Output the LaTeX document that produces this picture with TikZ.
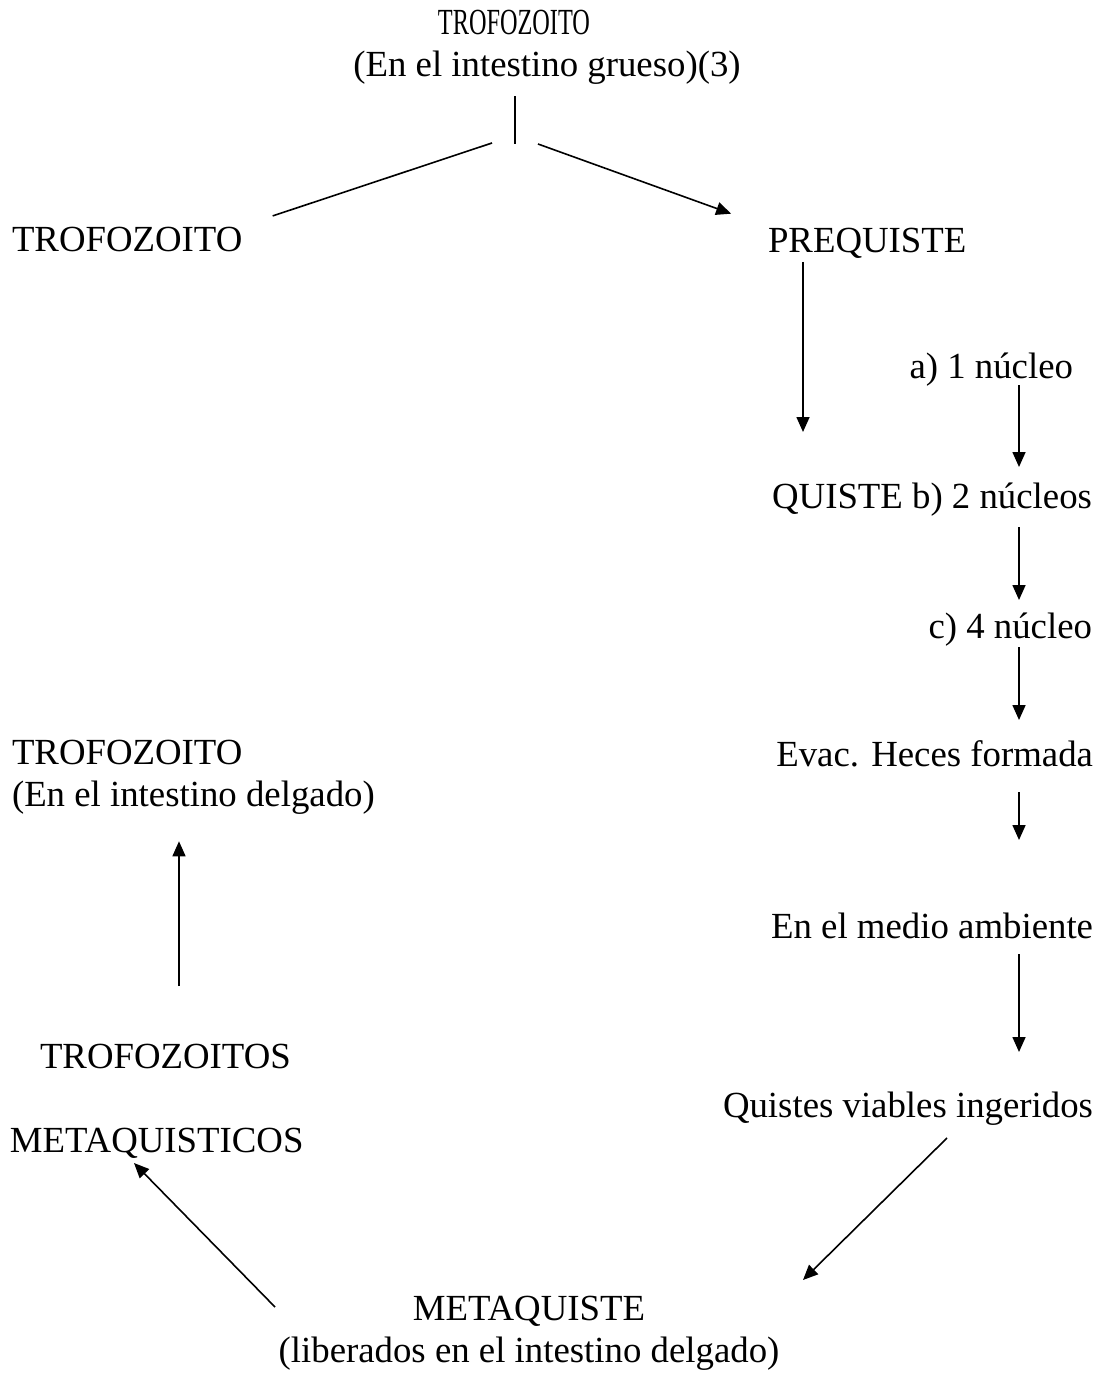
\documentclass[tikz,border=0pt]{standalone}
\usepackage{fontspec}
\setmainfont{Liberation Serif}
\usetikzlibrary{arrows.meta}

\begin{document}
\begin{tikzpicture}[x=0.5pt,y=-0.5pt,
    every node/.style={font=\fontsize{18.4}{21.2}\selectfont,inner sep=0pt,outer sep=0pt},
    izq/.style={anchor=base west,text height=12.5pt,text depth=3.5pt},
    der/.style={anchor=base east,text height=12.5pt,text depth=3.5pt},
    doble/.style={align=center},
    linea/.style={line width=0.8pt},
    flecha/.style={linea,-{Triangle[length=7.5pt,width=6.5pt]}},
  ]
  \useasboundingbox (0,0) rectangle (1105,1375);
  % columnas y puntos libres
  \coordinate (colA) at (803,0);
  \coordinate (colB) at (1019,0);
  \coordinate (colC) at (179,0);
  \coordinate (bif) at (515,144);
  \coordinate (bifI) at (492,143);
  \coordinate (bifD) at (538,144);
  \coordinate (salV) at (947,1138);
  \coordinate (llegM) at (803,1280);
  \coordinate (salM) at (275,1307);
  \coordinate (llegMT) at (134,1163);
  % etapas del ciclo
  \node[doble,anchor=north] (troI) at (547,10) {\scalebox{0.66}[1]{TROFOZOITO}\hspace*{33pt}\\(En el intestino grueso)(3)};
  \node[izq] (troA) at (12,251) {TROFOZOITO};
  \node[izq] (pre) at (768,252) {PREQUISTE};
  \node[der] (nuc1) at (1073,378) {a) 1 núcleo};
  \node[der] (quis) at (1092,508) {QUISTE b) 2 núcleos};
  \node[der] (nuc4) at (1092,638) {c) 4 núcleo};
  \node[der] (evac) at (1093,766) {Evac. Heces formada};
  \node[der] (medio) at (1093,938) {En el medio ambiente};
  \node[der] (viab) at (1093,1117) {Quistes viables ingeridos};
  \node[doble,anchor=north] (meta) at (529,1296) {METAQUISTE\\(liberados en el intestino delgado)};
  \node[izq] (troMet) at (40,1068) {TROFOZOITOS};
  \node[izq] (metaT) at (10,1152) {METAQUISTICOS};
  \node[doble,align=left,anchor=north west] (troD) at (12,740) {TROFOZOITO\\(En el intestino delgado)};
  % conexiones
  \draw[linea,shorten <=5.75pt] (troI.south -| bif) -- (bif);
  \draw[linea,shorten >=16pt] (bifI) -- (troA.north east);
  \draw[flecha,shorten >=19.6pt] (bifD) -- (pre.north west);
  \draw[flecha,shorten <=1.5pt,shorten >=25.5pt] (pre.south -| colA) -- (quis.north -| colA);
  \draw[flecha,shorten >=8pt] (nuc1.south -| colB) -- (quis.north -| colB);
  \draw[flecha,shorten <=6pt,shorten >=6.5pt] (quis.south -| colB) -- (nuc4.north -| colB);
  \draw[flecha,shorten <=1pt,shorten >=10.5pt] (nuc4.south -| colB) -- (evac.north -| colB);
  \draw[flecha,shorten <=9.5pt,shorten >=36.5pt] (evac.south -| colB) -- (medio.north -| colB);
  \draw[flecha,shorten <=4.5pt,shorten >=20pt] (medio.south -| colB) -- (viab.north -| colB);
  \draw[flecha] (salV) -- (llegM);
  \draw[flecha] (salM) -- (llegMT);
  \draw[flecha,shorten <=28.5pt,shorten >=13.3pt] (troMet.north -| colC) -- (troD.south -| colC);
\end{tikzpicture}
\end{document}
